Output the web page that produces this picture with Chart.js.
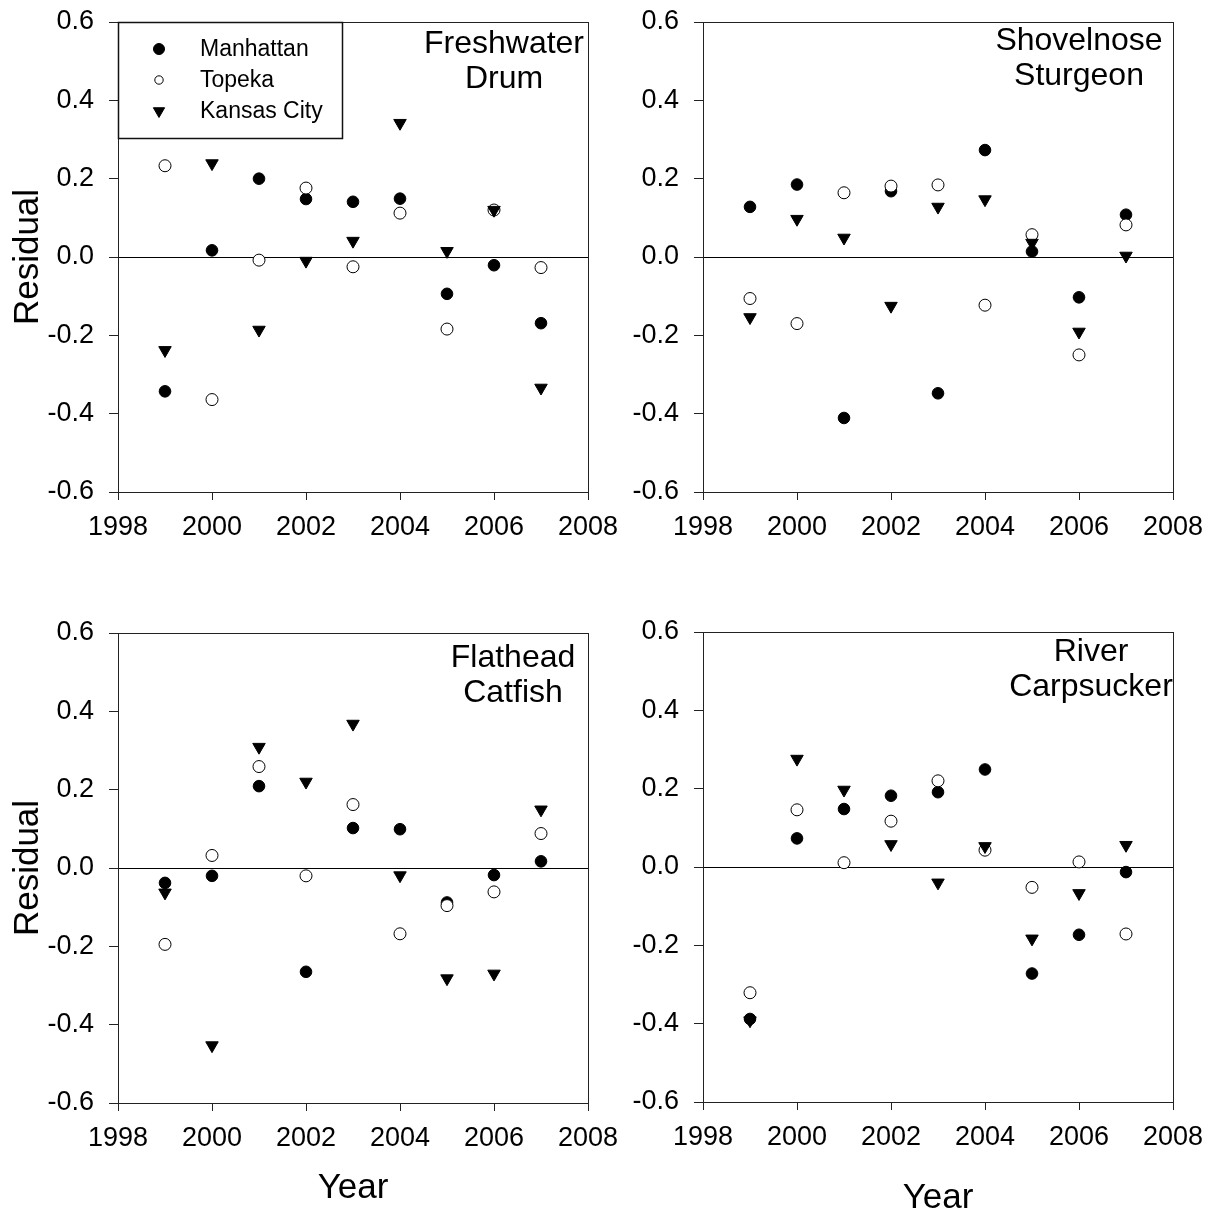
<!DOCTYPE html>
<html>
<head>
<meta charset="utf-8">
<script src="https://cdn.jsdelivr.net/npm/chart.js@4.4.0/dist/chart.umd.min.js"></script>
<style>
html,body{margin:0;padding:0;background:#fff;overflow:hidden;width:1212px;height:1215px;position:relative}
canvas{position:absolute;display:block}
</style>
</head>
<body>
<canvas id="c1" width="640" height="600" style="left:0px;top:0px;width:640px;height:600px"></canvas>
<canvas id="c2" width="606" height="600" style="left:606px;top:0px;width:606px;height:600px"></canvas>
<canvas id="c3" width="640" height="615" style="left:0px;top:600px;width:640px;height:615px"></canvas>
<canvas id="c4" width="606" height="640" style="left:606px;top:600px;width:606px;height:640px"></canvas>
<script>
// ---------- data ----------
const years = [1999, 2000, 2001, 2002, 2003, 2004, 2005, 2006, 2007];
const seriesNames = ['Manhattan', 'Topeka', 'Kansas City'];
const xTicks = [1998, 2000, 2002, 2004, 2006, 2008];
const yTicks = [-0.6, -0.4, -0.2, 0.0, 0.2, 0.4, 0.6];

const drumManhattan = [-0.343, 0.017, 0.200, 0.148, 0.141, 0.149, -0.094, -0.021, -0.169];
const drumTopeka    = [0.233, -0.364, -0.008, 0.176, -0.025, 0.112, -0.184, 0.120, -0.027];
const drumKansas    = [-0.238, 0.239, -0.186, -0.010, 0.041, 0.342, 0.015, 0.120, -0.334];

const sturgManhattan = [0.128, 0.185, -0.411, 0.168, -0.348, 0.273, 0.014, -0.103, 0.108];
const sturgTopeka    = [-0.106, -0.170, 0.164, 0.181, 0.184, -0.123, 0.057, -0.250, 0.082];
const sturgKansas    = [-0.154, 0.097, 0.049, -0.125, 0.128, 0.147, 0.036, -0.191, 0.003];

const catManhattan = [-0.038, -0.020, 0.209, -0.265, 0.102, 0.099, -0.088, -0.018, 0.017];
const catTopeka    = [-0.195, 0.032, 0.259, -0.020, 0.162, -0.168, -0.096, -0.061, 0.088];
const catKansas    = [-0.063, -0.453, 0.309, 0.220, 0.368, -0.019, -0.282, -0.270, 0.149];

const carpManhattan = [-0.388, 0.073, 0.148, 0.182, 0.191, 0.249, -0.272, -0.173, -0.013];
const carpTopeka    = [-0.321, 0.146, 0.011, 0.117, 0.220, 0.043, -0.052, 0.013, -0.171];
const carpKansas    = [-0.392, 0.276, 0.197, 0.058, -0.040, 0.053, -0.183, -0.067, 0.056];

const titleDrum = ['Freshwater', 'Drum'];
const titleSturg = ['Shovelnose', 'Sturgeon'];
const titleCat = ['Flathead', 'Catfish'];
const titleCarp = ['River', 'Carpsucker'];
const yAxisTitle = 'Residual';
const xAxisTitle = 'Year';

// ---------- rendering ----------
const FONT = "'Liberation Sans', Arial, Helvetica, sans-serif";
Chart.defaults.font.family = FONT;
Chart.defaults.color = '#000';

function pts(vals) { return years.map((y, i) => ({ x: y, y: vals[i] })); }

const styles = [
  { pointStyle: 'circle', pointRadius: 5.8, pointBackgroundColor: '#000', pointBorderColor: '#000', pointBorderWidth: 1, pointRotation: 0 },
  { pointStyle: 'circle', pointRadius: 6, pointBackgroundColor: '#fff', pointBorderColor: '#000', pointBorderWidth: 1, pointRotation: 0 },
  { pointStyle: 'triangle', pointRadius: 7.2, pointBackgroundColor: '#000', pointBorderColor: '#000', pointBorderWidth: 1, pointRotation: 180 }
];

function drawMarker(ctx, s, x, y, r) {
  ctx.beginPath();
  if (s === 'tri') {
    let a = Math.PI;
    ctx.moveTo(x + Math.sin(a) * r, y - Math.cos(a) * r);
    a += 2 * Math.PI / 3;
    ctx.lineTo(x + Math.sin(a) * r, y - Math.cos(a) * r);
    a += 2 * Math.PI / 3;
    ctx.lineTo(x + Math.sin(a) * r, y - Math.cos(a) * r);
    ctx.closePath();
    ctx.fillStyle = '#000'; ctx.fill();
    ctx.strokeStyle = '#000'; ctx.lineWidth = 1; ctx.stroke();
  } else {
    ctx.arc(x, y, r, 0, Math.PI * 2);
    ctx.fillStyle = s === 'open' ? '#fff' : '#000';
    ctx.fill();
    ctx.strokeStyle = '#000'; ctx.lineWidth = 1; ctx.stroke();
  }
}

function panelPlugin(p) {
  return {
    id: 'panel_' + p.id,
    afterDraw(chart) {
      const ctx = chart.ctx, a = chart.chartArea;
      ctx.save();
      ctx.strokeStyle = '#222';
      ctx.lineWidth = 1;
      ctx.strokeRect(a.left + 0.5, a.top + 0.5, a.right - a.left, a.bottom - a.top);
      // panel title
      ctx.fillStyle = '#000';
      ctx.font = '32px ' + FONT;
      ctx.textAlign = 'center';
      ctx.textBaseline = 'alphabetic';
      const cx = a.right - p.titleDx;
      p.title.forEach((t, i) => ctx.fillText(t, cx, a.top + p.titleBase + i * 35));
      // legend
      if (p.legend) {
        const bx = a.left + 0.5, by = a.top + 0.5, bw = 224, bh = 116;
        ctx.fillStyle = '#fff';
        ctx.fillRect(bx, by, bw, bh);
        ctx.strokeStyle = '#111';
        ctx.lineWidth = 1.5;
        ctx.strokeRect(bx, by, bw, bh);
        const kinds = ['fill', 'open', 'tri'];
        const radii = [5.5, 4.2, 6.5];
        const rows = [27, 58, 89];
        seriesNames.forEach((n, i) => {
          drawMarker(ctx, kinds[i], a.left + 41, a.top + rows[i], radii[i]);
          ctx.fillStyle = '#000';
          ctx.font = '23px ' + FONT;
          ctx.textAlign = 'left';
          ctx.textBaseline = 'middle';
          ctx.fillText(n, a.left + 82, a.top + rows[i] + 1);
        });
      }
      ctx.restore();
    }
  };
}

const panels = [
  { id: 'c1', left: 0, top: 0, w: 640, h: 600, pl: 118, pt: 22, pr: 588, pb: 492,
    data: [drumManhattan, drumTopeka, drumKansas], title: titleDrum, titleDx: 84, titleBase: 31,
    yTitle: true, xTitle: false, legend: true, xTitlePad: 0 },
  { id: 'c2', left: 606, top: 0, w: 606, h: 600, pl: 703, pt: 22, pr: 1173, pb: 492,
    data: [sturgManhattan, sturgTopeka, sturgKansas], title: titleSturg, titleDx: 94, titleBase: 28,
    yTitle: false, xTitle: false, legend: false, xTitlePad: 0 },
  { id: 'c3', left: 0, top: 600, w: 640, h: 615, pl: 118, pt: 633, pr: 588, pb: 1103,
    data: [catManhattan, catTopeka, catKansas], title: titleCat, titleDx: 75, titleBase: 34,
    yTitle: true, xTitle: true, legend: false, xTitlePad: 6 },
  { id: 'c4', left: 606, top: 600, w: 606, h: 640, pl: 703, pt: 632, pr: 1173, pb: 1102,
    data: [carpManhattan, carpTopeka, carpKansas], title: titleCarp, titleDx: 82, titleBase: 29,
    yTitle: false, xTitle: true, legend: false, xTitlePad: 21 }
];

panels.forEach(p => {
  const datasets = p.data.map((vals, i) => Object.assign({
    label: seriesNames[i],
    data: pts(vals),
    showLine: false,
    order: 3 - i
  }, styles[i]));

  new Chart(document.getElementById(p.id), {
    type: 'scatter',
    data: { datasets },
    options: {
      responsive: false,
      animation: false,
      devicePixelRatio: 1,
      events: [],
      layout: { padding: { left: 0, top: p.pt - p.top, right: (p.left + p.w) - p.pr, bottom: 0 } },
      plugins: { legend: { display: false }, tooltip: { enabled: false } },
      scales: {
        x: {
          type: 'linear', position: 'bottom', min: 1998, max: 2008,
          afterBuildTicks: s => { s.ticks = xTicks.map(v => ({ value: v })); },
          afterFit: s => { s.height = (p.top + p.h) - p.pb; s.paddingLeft = 0; s.paddingRight = 0; },
          ticks: { font: { size: 27 }, color: '#000', padding: 11, maxRotation: 0, autoSkip: false,
                   callback: v => String(v) },
          grid: { drawOnChartArea: false, drawTicks: true, tickLength: 8, tickColor: '#222', lineWidth: 1 },
          border: { display: false },
          title: { display: p.xTitle, text: xAxisTitle, font: { size: 35 }, color: '#000',
                   padding: { top: 0, bottom: p.xTitlePad } }
        },
        y: {
          type: 'linear', position: 'left', min: -0.6, max: 0.6,
          afterBuildTicks: s => { s.ticks = yTicks.map(v => ({ value: v })); },
          afterFit: s => { s.width = p.pl - p.left; s.paddingTop = 0; s.paddingBottom = 0; },
          ticks: { font: { size: 27 }, color: '#000', padding: 15, autoSkip: false,
                   callback: v => v.toFixed(1) },
          grid: {
            drawOnChartArea: true, drawTicks: true, tickLength: 9, tickColor: '#222', lineWidth: 1,
            color: c => (c.tick && Math.abs(c.tick.value) < 1e-9) ? '#000' : 'rgba(0,0,0,0)'
          },
          border: { display: false },
          title: { display: p.yTitle, text: yAxisTitle, font: { size: 35 }, color: '#000',
                   padding: { top: 7, bottom: 0 } }
        }
      }
    },
    plugins: [panelPlugin(p)]
  });
});
</script>
</body>
</html>
